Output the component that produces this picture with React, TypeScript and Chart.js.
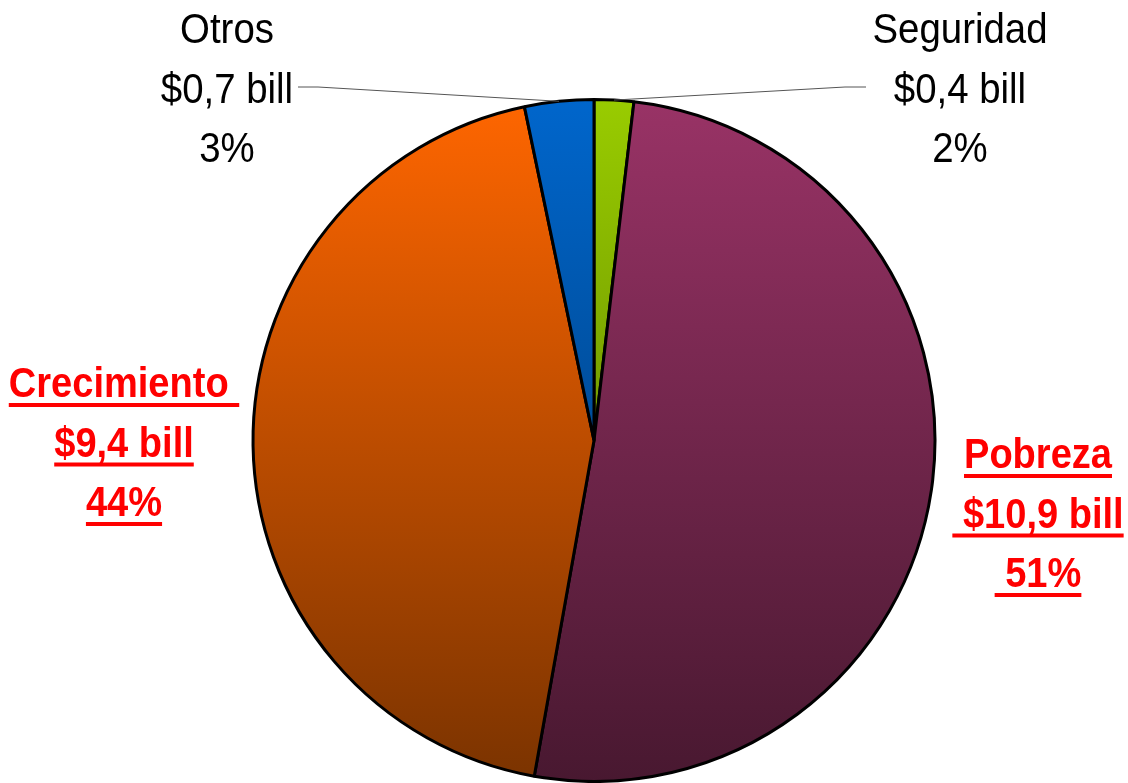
import React, { useEffect, useRef } from "react";
import { Chart, registerables } from "chart.js";

Chart.register(...registerables);

// ---- data ----
const categories = ["Seguridad", "Pobreza", "Crecimiento", "Otros"];
const values = [0.4, 10.9, 9.4, 0.7];
const amountLabels = ["$0,4 bill", " $10,9 bill", "$9,4 bill", "$0,7 bill"];
const percentLabels = ["2%", " 51%", "44%", "3%"];
const nameLabels = ["Seguridad", "Pobreza", "Crecimiento ", "Otros"];
const topColors = ["#99CC00", "#993366", "#FF6600", "#0066CC"];
const bottomColors = ["#4D6A00", "#481830", "#7A3300", "#003366"];
const highlighted = [false, true, true, false];

// ---- label layout (positions only) ----
const labelLayout = [
  { cx: 960, y: 43, leadText: [866, 87], leadBend: [845, 87] },
  { cx: 1038, y: 468, leadText: null, leadBend: null },
  { cx: 124, y: 397, leadText: null, leadBend: null },
  { cx: 227, y: 43, leadText: [298, 87], leadBend: [318, 87] },
];

const FONT_FAMILY = '"Liberation Sans", Arial, sans-serif';

const labelPlugin = {
  id: "sliceLabels",
  afterDraw(chart: any) {
    const ctx: CanvasRenderingContext2D = chart.ctx;
    const meta = chart.getDatasetMeta(0);
    ctx.save();
    ctx.font = `42px ${FONT_FAMILY}`;
    const regScale = 175 / ctx.measureText("Seguridad").width;
    ctx.font = `bold 42px ${FONT_FAMILY}`;
    const boldScale = 148 / ctx.measureText("Pobreza").width;

    categories.forEach((_, i) => {
      const lay = labelLayout[i];
      const bold = highlighted[i];
      const lines = [nameLabels[i], amountLabels[i], percentLabels[i]];
      const sx = bold ? boldScale : regScale;
      ctx.font = bold ? `bold 42px ${FONT_FAMILY}` : `42px ${FONT_FAMILY}`;
      ctx.fillStyle = bold ? "#FF0000" : "#000000";
      ctx.textBaseline = "alphabetic";
      ctx.textAlign = "left";
      lines.forEach((t, k) => {
        const y = lay.y + k * 59.5;
        const w = ctx.measureText(t).width * sx;
        const x0 = lay.cx - w / 2;
        ctx.save();
        ctx.translate(x0, y);
        ctx.scale(sx, 1);
        ctx.fillText(t, 0, 0);
        ctx.restore();
        if (bold) {
          ctx.fillRect(x0, y + 6, w, 4);
        }
      });

      if (lay.leadText && lay.leadBend) {
        const arc = meta.data[i];
        const p = arc.getProps(["x", "y", "startAngle", "endAngle", "outerRadius"], true);
        const mid = (p.startAngle + p.endAngle) / 2;
        const ax = p.x + Math.cos(mid) * p.outerRadius;
        const ay = p.y + Math.sin(mid) * p.outerRadius;
        ctx.beginPath();
        ctx.strokeStyle = "#555555";
        ctx.lineWidth = 1;
        ctx.moveTo(lay.leadText[0], lay.leadText[1]);
        ctx.lineTo(lay.leadBend[0], lay.leadBend[1]);
        ctx.lineTo(ax, ay);
        ctx.stroke();
      }
    });
    ctx.restore();
  },
};

export default function App() {
  const canvasRef = useRef<HTMLCanvasElement | null>(null);

  useEffect(() => {
    document.body.style.margin = "0";
    const canvas = canvasRef.current;
    if (!canvas) return;
    const chart = new Chart(canvas, {
      type: "pie",
      data: {
        labels: categories,
        datasets: [
          {
            data: values,
            backgroundColor: (c: any) => {
              const i = c.dataIndex;
              const area = c.chart.chartArea;
              if (!area) return topColors[i];
              const g = c.chart.ctx.createLinearGradient(0, area.top, 0, area.bottom);
              g.addColorStop(0, topColors[i]);
              g.addColorStop(1, bottomColors[i]);
              return g;
            },
            borderColor: "#000000",
            borderWidth: 3,
          },
        ],
      },
      options: {
        responsive: false,
        animation: false,
        layout: { padding: { left: 251, right: 191, top: 98, bottom: 0 } },
        plugins: {
          legend: { display: false },
          tooltip: { enabled: false },
        },
      },
      plugins: [labelPlugin],
    } as any);
    return () => chart.destroy();
  }, []);

  return (
    <div style={{ position: "absolute", left: 0, top: 0, width: 1128, height: 783, background: "#fff" }}>
      <canvas ref={canvasRef} width={1128} height={783} style={{ width: 1128, height: 783, display: "block" }} />
    </div>
  );
}
